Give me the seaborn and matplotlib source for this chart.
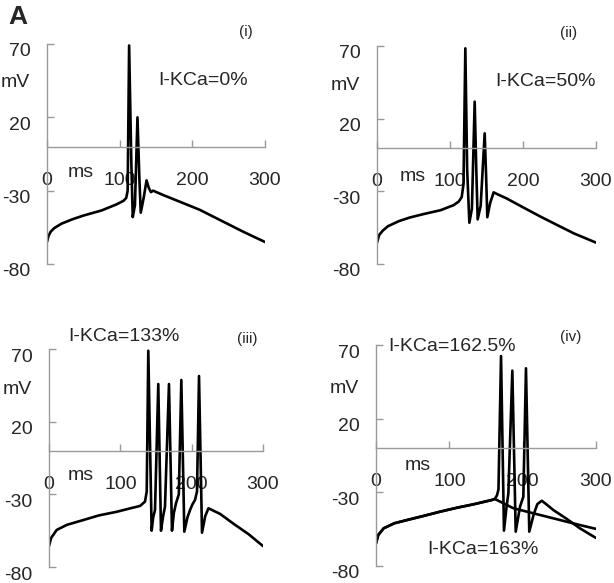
import matplotlib
matplotlib.use("Agg")
import matplotlib.pyplot as plt
import matplotlib.transforms as mtransforms
import pandas as pd
import seaborn as sns

sns.set_style("white")
plt.rcParams["font.family"] = ["Liberation Sans", "DejaVu Sans"]

# ---------------- data ----------------
x_ticks = [0, 100, 200, 300]
x_tick_labels = ["0", "100", "200", "300"]
y_ticks = [70, 20, -30, -80]
y_tick_labels = ["70", "20", "-30", "-80"]

# (i) I-KCa = 0%
t_i = [0, 2, 5, 10, 20, 35, 50, 75, 95, 105, 109, 111, 113, 116, 118, 121,
       124.5, 127, 129, 133, 137, 140, 143, 146, 160, 180, 210, 240, 270, 300]
v_i = [-65, -61, -58, -55.5, -52.5, -49.5, -47, -43.5, -39.5, -37, -35, -30, 69,
       -10, -48, -40, 20, -20, -45, -35, -23, -28, -31, -30, -33, -37, -43,
       -50.5, -58, -65]

# (ii) I-KCa = 50%
t_ii = [0, 3, 8, 15, 30, 45, 65, 87, 105, 112, 116, 118.5, 121, 123.5, 126.5,
        130, 133.8, 136, 137.9, 142, 147.5, 149.5, 151.1, 155, 159.8, 165, 178,
        200, 224, 250, 270, 300]
v_ii = [-65.3, -60, -57, -54, -50.5, -48, -45.5, -43, -39.5, -37, -34, -25,
        68.4, -15, -51.6, -42, 31.7, -15, -49.3, -40, 9.9, -20, -47.8, -38,
        -30.7, -32, -35, -41, -47.4, -54, -59, -65.3]

# (iii) I-KCa = 133%
t_iii = [0, 3, 10.8, 25, 48, 70, 95, 115, 127.6, 134.6, 137, 139.2, 143.9,
         146, 148.6, 153.2, 157, 160, 162.6, 168.2, 172.4, 175, 178, 182,
         185.5, 189.7, 194, 197.7, 201, 204.7, 207.5, 210.3, 214.5, 219,
         223.5, 240, 258, 280, 300]
v_iii = [-65.6, -60, -54.5, -51, -47.7, -44.5, -42, -39.5, -38, -35, -28, 68.8,
         -55, -46, -40.8, 45.9, -55, -45, -38.5, 45.9, -55, -43, -36.2, -30,
         48.7, -55.7, -46, -40.8, -37, -33.9, -28, 51.4, -56.4, -45, -39.6,
         -43.5, -50, -57.5, -65.6]

# (iv) I-KCa = 162.5% (spiking)
t_iv_a = [0, 3, 10.5, 25, 42.3, 65, 87.7, 110, 133.2, 158, 162, 165, 167,
          170.5, 174.5, 178, 180.5, 185.9, 190.5, 196.4, 200.9, 204.5, 209,
          215, 220, 226, 232, 241.8, 260, 278, 300]
v_iv_a = [-64.6, -59, -54.4, -51, -48.8, -46, -43.1, -40.5, -38.1, -35.2,
          -34.5, -32, -28, 62.5, -56, -40, -30.7, 52.6, -56.7, -39.7, -33,
          54.2, -56.7, -45, -38, -35.7, -38, -42, -48, -54.4, -61]

# (iv) I-KCa = 163% (no spikes)
t_iv_b = [0, 3, 10.5, 25, 42.3, 65, 87.7, 110, 133.2, 158, 162, 187.3, 232.7,
          278, 300]
v_iv_b = [-64.6, -59, -54.4, -51, -48.8, -46, -43.1, -40.5, -38.1, -35.2,
          -34.5, -40.8, -46.5, -52.2, -54.8]

# ---------------- figure ----------------
fig = plt.figure(figsize=(6.14, 5.83), dpi=100)

axes_rects = [
    [0.07655, 0.54717, 0.35505, 0.37736],
    [0.61401, 0.54717, 0.35668, 0.37393],
    [0.07980, 0.02744, 0.34853, 0.37393],
    [0.61238, 0.02916, 0.35831, 0.37907],
]

FS = 14
AX_COLOR = "#9a9a9a"


def setup(ax):
    ax.set_xlim(0, 300)
    ax.set_ylim(-80, 70)
    ax.patch.set_visible(False)
    for s in ("top", "right"):
        ax.spines[s].set_visible(False)
    ax.spines["left"].set_position(("data", 0))
    ax.spines["bottom"].set_position(("data", 0))
    for s in ("left", "bottom"):
        ax.spines[s].set_color(AX_COLOR)
        ax.spines[s].set_linewidth(1.0)
    ax.set_xticks(x_ticks)
    ax.set_xticklabels(x_tick_labels)
    ax.set_yticks(y_ticks)
    ax.set_yticklabels(y_tick_labels)
    ax.tick_params(axis="x", bottom=True, top=False, direction="in", length=5,
                   width=1.0, color=AX_COLOR, pad=18, labelsize=FS)
    ax.tick_params(axis="y", left=True, right=False, direction="in", length=5,
                   width=1.0, color=AX_COLOR, pad=12, labelsize=FS)
    off = mtransforms.ScaledTranslation(0, -6 / 100, fig.dpi_scale_trans)
    for lab in ax.get_yticklabels():
        lab.set_transform(lab.get_transform() + off)
    ax.set_xlabel("")
    ax.set_ylabel("")


def trace(ax, t, v):
    df = pd.DataFrame({"t": t, "v": v})
    sns.lineplot(data=df, x="t", y="v", ax=ax, color="black", linewidth=1.9,
                 sort=False, estimator=None)


panels = [
    ([(t_i, v_i)], "(i)", (273.8, 78.5), [("I-KCa=0%", (215, 44.8))], (46.8, -17.9), 44),
    ([(t_ii, v_ii)], "(ii)", (263, 78.7), [("I-KCa=50%", (231.5, 45.4))], (49.3, -20.1), 42.5),
    ([(t_iii, v_iii)], "(iii)", (277.6, 76.9), [("I-KCa=133%", (105, 78.5))], (44.9, -16.7), 42),
    ([(t_iv_a, v_iv_a), (t_iv_b, v_iv_b)], "(iv)", (266, 75.6),
     [("I-KCa=162.5%", (103.7, 68.8)), ("I-KCa=163%", (146, -69.1))], (57.3, -12.1), 40.5),
]

for rect, (traces, tag, tag_xy, notes, ms_xy, mv_y) in zip(axes_rects, panels):
    ax = fig.add_axes(rect)
    for t, v in traces:
        trace(ax, t, v)
    setup(ax)
    ax.text(*tag_xy, tag, fontsize=11, ha="center", va="center")
    for txt, xy in notes:
        ax.text(*xy, txt, fontsize=FS, ha="center", va="center")
    ax.text(*ms_xy, "ms", fontsize=FS, ha="center", va="center")
    ax.annotate("mV", xy=(0, mv_y), xytext=(-12, 0), textcoords="offset points",
                fontsize=FS, ha="right", va="center")

fig.text(0.029, 0.971, "A", fontsize=19, fontweight="bold", ha="center", va="center")

fig.savefig("out.png", dpi=100)
